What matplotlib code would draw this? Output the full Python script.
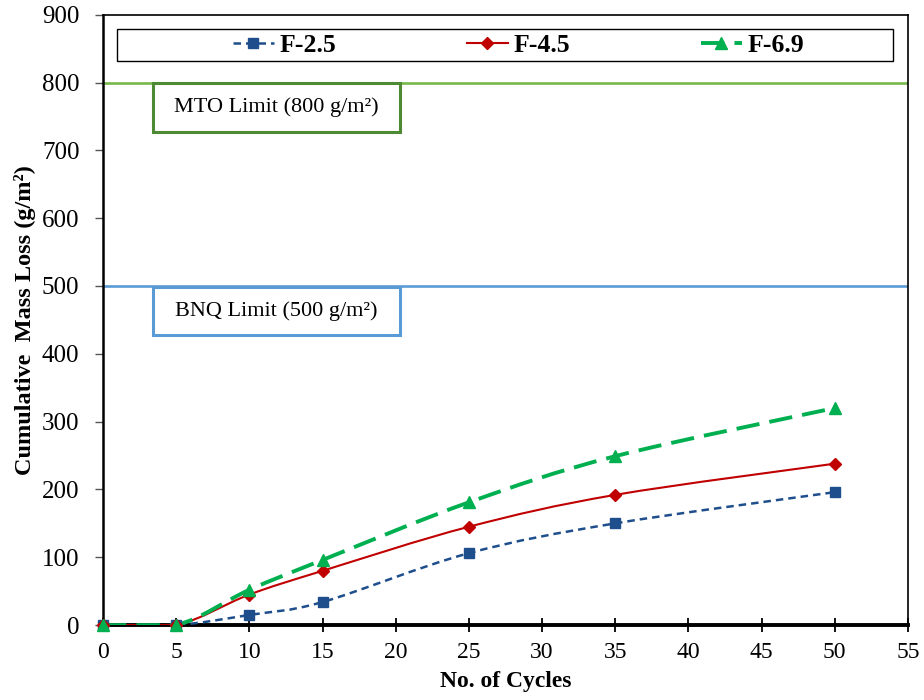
import matplotlib

matplotlib.use("Agg")

import matplotlib.pyplot as plt
import numpy as np
from matplotlib.lines import Line2D
from matplotlib.patches import PathPatch, Rectangle
from matplotlib.path import Path


cycles = [0, 5, 10, 15, 25, 35, 50]
f25 = [0, 0, 15, 34, 106, 150, 196]
f45 = [0, 0, 45, 80, 145, 192, 238]
f69 = [0, 0, 52, 96, 181, 249, 320]

series_names = ["F-2.5", "F-4.5", "F-6.9"]
limit_values = [800, 500]
limit_labels = ["MTO Limit (800 g/m²)", "BNQ Limit (500 g/m²)"]

x_ticks = list(range(0, 60, 5))
y_ticks = list(range(0, 1000, 100))

plt.rcParams["font.family"] = ["Liberation Serif", "DejaVu Serif"]


def smooth_path(xs, ys):
    # excel-style smoothed line: catmull-rom segments as cubic beziers
    pts = np.column_stack([xs, ys]).astype(float)
    n = len(pts)
    verts = [pts[0]]
    codes = [Path.MOVETO]
    for i in range(n - 1):
        p0 = pts[max(i - 1, 0)]
        p1 = pts[i]
        p2 = pts[i + 1]
        p3 = pts[min(i + 2, n - 1)]
        c1 = p1 + (p2 - p0) / 6.0
        c2 = p2 - (p3 - p1) / 6.0
        lo, hi = min(p1[1], p2[1]), max(p1[1], p2[1])
        c1[1] = np.clip(c1[1], lo, hi)
        c2[1] = np.clip(c2[1], lo, hi)
        verts += [c1, c2, p2]
        codes += [Path.CURVE4] * 3
    return Path(verts, codes)


fig = plt.figure(figsize=(9.24, 7.0), dpi=100)
ax = fig.add_axes([0.1115, 0.107, 0.871, 0.872])

ax.set_xlim(0, 55)
ax.set_ylim(0, 900)

# limit lines with their label boxes
limit_colors = ["#77B84A", "#5B9BD5"]
box_colors = ["#4E8A34", "#5B9BD5"]
box_x0, box_x1 = 3.42, 20.29
for val, lab, lc, bc in zip(limit_values, limit_labels, limit_colors, box_colors):
    ax.axhline(val, color=lc, lw=1.9, zorder=2)
    ax.add_patch(Rectangle((box_x0, val - 73), box_x1 - box_x0, 72,
                           fc="white", ec=bc, lw=2.2, zorder=5))
    ax.text((box_x0 + box_x1) / 2, val - 37, lab, ha="center", va="center",
            fontsize=16, zorder=6)

styles = [
    dict(color="#1F4E8C", lw=1.8, dashes=(3, 2), marker="s", ms=7.5),
    dict(color="#C00000", lw=1.5, dashes=None, marker="D", ms=6),
    dict(color="#00B050", lw=2.8, dashes=(6, 2.6), marker="^", ms=8.5),
]

handles = []
for ys, name, st in zip([f25, f45, f69], series_names, styles):
    patch = PathPatch(smooth_path(cycles, ys), fill=False, edgecolor=st["color"],
                      lw=st["lw"], zorder=3, capstyle="butt")
    if st["dashes"] is not None:
        patch.set_linestyle((0, st["dashes"]))
    ax.add_patch(patch)
    ax.plot(cycles, ys, ls="none", marker=st["marker"], ms=st["ms"],
            color=st["color"], zorder=4, clip_on=False)
    h = Line2D([], [], color=st["color"], lw=st["lw"], marker=st["marker"],
               ms=st["ms"], linestyle="-" if st["dashes"] is None else (0, st["dashes"]))
    handles.append(h)

# legend frame
ax.add_patch(Rectangle((0.0174, 0.924), 0.964, 0.052, transform=ax.transAxes,
                       fill=True, fc="white", ec="black", lw=1.0, zorder=5))
leg = ax.legend(handles, series_names, loc="center", ncol=3,
                bbox_to_anchor=(0.516, 0.950), frameon=False, handlelength=1.6,
                handletextpad=0.2, columnspacing=5.1,
                prop=dict(family="Liberation Serif", weight="bold", size=18.5))
leg.set_zorder(6)

ax.set_xticks(x_ticks)
ax.set_yticks(y_ticks)
ax.tick_params(axis="x", direction="inout", length=10, width=1.3, labelsize=17, pad=7)
ax.tick_params(axis="y", direction="out", length=6, width=1.0, color="#555555",
               labelsize=18, pad=11)

for side in ["top", "right"]:
    ax.spines[side].set_linewidth(1.2)
ax.spines["left"].set_linewidth(1.8)
ax.spines["bottom"].set_linewidth(2.8)

ax.set_xlabel("No. of Cycles", fontsize=17, fontweight="bold", labelpad=6)
ax.set_ylabel("Cumulative  Mass Loss (g/m²)", fontsize=17.5,
              fontweight="bold", labelpad=4)

fig.savefig("out.png", dpi=100)
